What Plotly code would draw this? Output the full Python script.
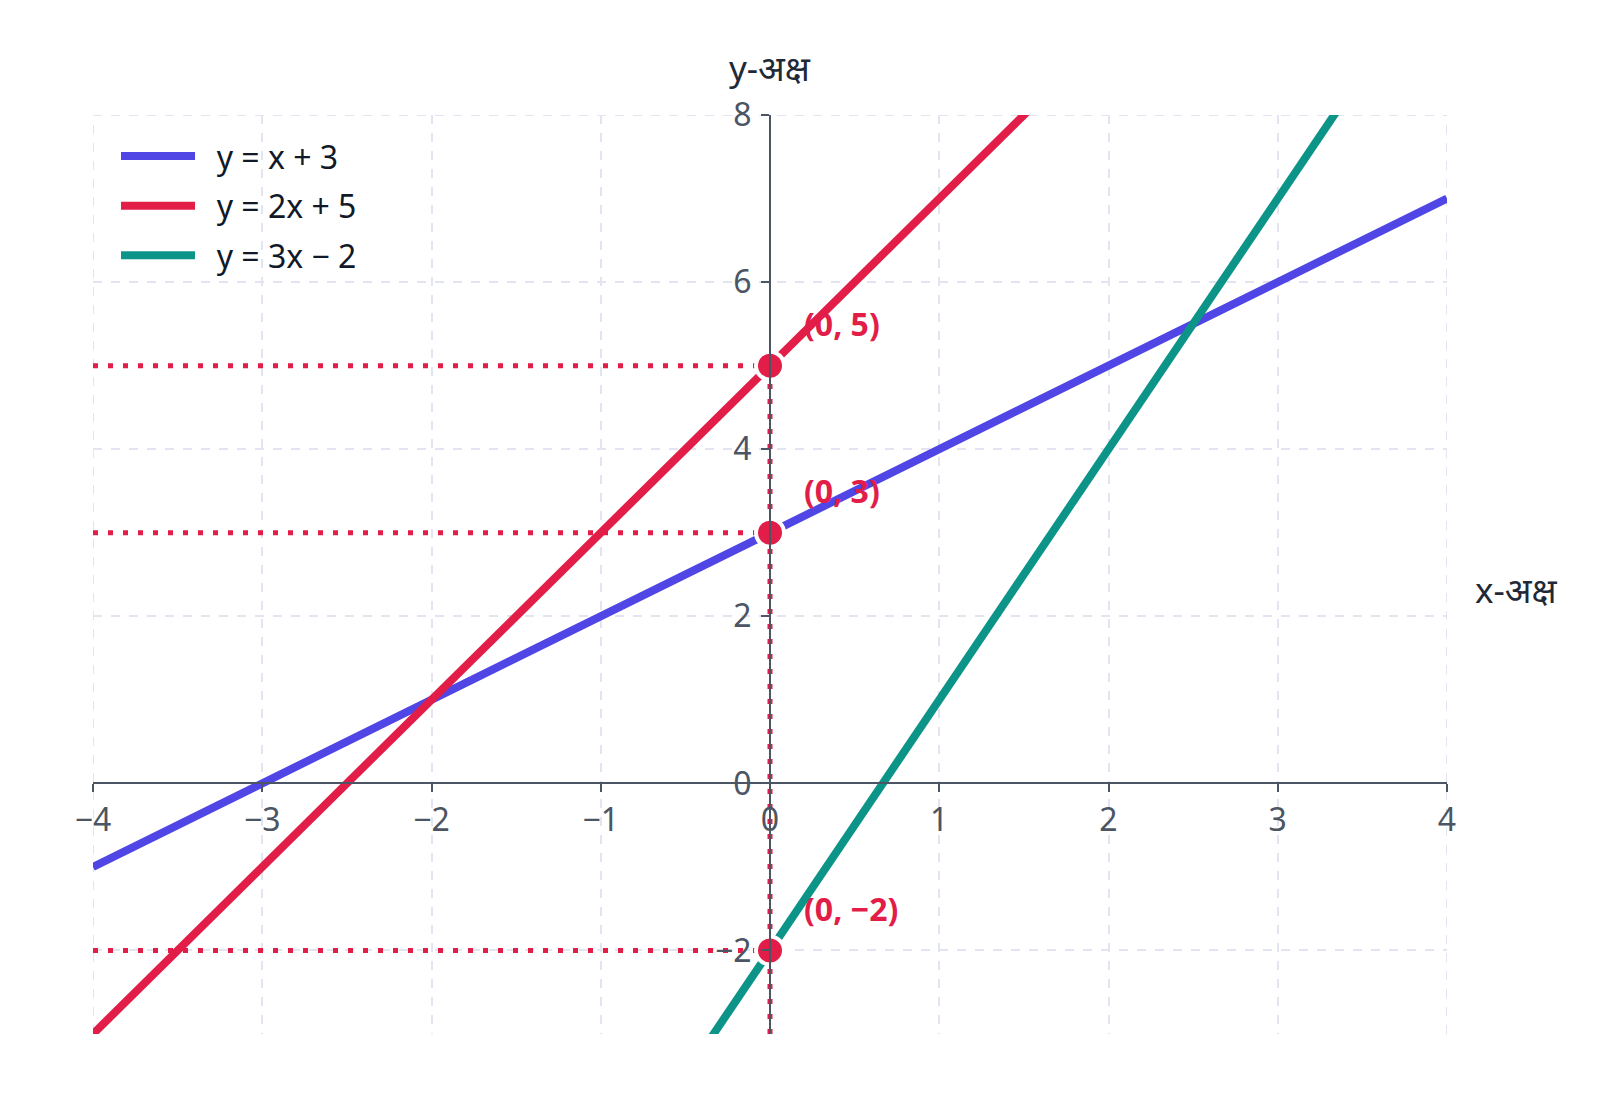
import plotly.graph_objects as go

# dados das retas (pontos extremos)
x_ends = [-4, 4]
y_blue = [-1, 7]      # y = x + 3
y_red = [-3, 13]      # y = 2x + 5
y_green = [-14, 10]   # y = 3x - 2
names = ["y = x + 3", "y = 2x + 5", "y = 3x − 2"]
colors = ["#4f46e5", "#e11d48", "#0d9488"]

# interceptos no eixo y
int_x = [0, 0, 0]
int_y = [5, 3, -2]
int_labels = ["(0, 5)", "(0, 3)", "(0, −2)"]

x_ticks = [-4, -3, -2, -1, 0, 1, 2, 3, 4]
y_ticks = [-2, 0, 2, 4, 6, 8]

RED = "#e11d48"
AXIS = "#4b5563"
GRID = "#e2e4f1"
FONT = "Noto Sans, Open Sans, sans-serif"
NB = "\u00a0\u00a0"  # espaço extra entre símbolo e texto da legenda

fig = go.Figure()

# linhas pontilhadas de referência
for yv in int_y:
    fig.add_trace(go.Scatter(
        x=[x_ticks[0], 0], y=[yv, yv], mode="lines",
        line=dict(color=RED, width=5, dash="5px,10px"),
        showlegend=False, hoverinfo="skip"))
fig.add_trace(go.Scatter(
    x=[0, 0], y=[-3, max(int_y)], mode="lines",
    line=dict(color=RED, width=5, dash="5px,10px"),
    showlegend=False, hoverinfo="skip"))

# as três retas
for ys, nm, c in zip([y_blue, y_red, y_green], names, colors):
    fig.add_trace(go.Scatter(
        x=x_ends, y=ys, mode="lines", name=NB + nm, legendgroup=nm,
        line=dict(color=c, width=8)))

# pontos de interseção
fig.add_trace(go.Scatter(
    x=int_x, y=int_y, mode="markers", showlegend=False,
    marker=dict(size=28, color=RED, line=dict(color="white", width=4)),
    cliponaxis=False))

for xv, yv, txt in zip(int_x, int_y, int_labels):
    fig.add_annotation(
        x=xv, y=yv, text="<b>" + txt + "</b>", showarrow=False,
        xanchor="left", yanchor="middle", xshift=32, yshift=42,
        font=dict(size=32, color=RED, family=FONT))

# títulos dos eixos
fig.add_annotation(x=0.5, y=1.052, xref="paper", yref="paper", text="y-अक्ष",
                   showarrow=False, xanchor="center", yanchor="middle",
                   font=dict(size=35, color="#1f2937", family=FONT))
fig.add_annotation(x=1.019, y=0.484, xref="paper", yref="paper", text="x-अक्ष",
                   showarrow=False, xanchor="left", yanchor="middle",
                   font=dict(size=35, color="#1f2937", family=FONT))

# linhas de grade nas bordas (o plotly não as desenha)
for xv in [x_ticks[0], x_ticks[-1]]:
    fig.add_shape(type="line", x0=xv, x1=xv, y0=0, y1=1, xref="x", yref="paper",
                  line=dict(color=GRID, width=2, dash="dash"), layer="below")
fig.add_shape(type="line", x0=0, x1=1, y0=y_ticks[-1], y1=y_ticks[-1], xref="paper", yref="y",
              line=dict(color=GRID, width=2, dash="dash"), layer="below")

grid = dict(showgrid=True, gridcolor=GRID, gridwidth=2, griddash="dash",
            showline=True, linecolor=AXIS, linewidth=2, zeroline=False,
            ticks="outside", ticklen=8, tickwidth=2, tickcolor=AXIS,
            tickfont=dict(size=32, color=AXIS, family=FONT))

fig.update_layout(
    width=1600, height=1101,
    paper_bgcolor="white", plot_bgcolor="white",
    margin=dict(l=85, r=161, t=107, b=75),
    font=dict(family=FONT),
    xaxis=dict(range=[-4, 4], tickvals=x_ticks, anchor="free", position=3 / 11, **grid),
    yaxis=dict(range=[-3, 8], tickvals=y_ticks, ticklabelstandoff=3,
               anchor="free", position=0.5, **grid),
    legend=dict(x=0.017, y=0.985, xanchor="left", yanchor="top",
                bgcolor="rgba(255,255,255,0)", itemwidth=74, tracegroupgap=5,
                font=dict(size=32, color="#111827", family=FONT)),
)

fig.write_html("out.html")
